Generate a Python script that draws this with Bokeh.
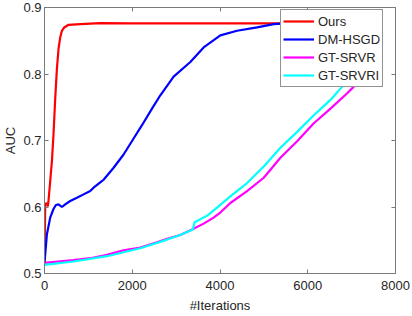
from bokeh.plotting import figure
from bokeh.models import LinearAxis, Range1d, FixedTicker, Legend, LegendItem, CustomJSTickFormatter
from bokeh.embed import file_html
from bokeh.resources import INLINE

# ---- data ----
ours_x = [0, 8, 16, 40, 60, 77, 91, 130, 169, 205, 244, 283, 320, 358, 397, 450, 548, 815, 1271,
          2000, 3000, 4000, 5000, 6000, 7000, 7500]
ours_y = [0.516, 0.560, 0.603, 0.606, 0.605, 0.601, 0.609, 0.639, 0.669, 0.709, 0.763, 0.808, 0.838,
          0.855, 0.865, 0.870, 0.874, 0.875, 0.8765, 0.876, 0.876, 0.876, 0.876, 0.876, 0.876, 0.876]

dm_x = [0, 55, 130, 205, 260, 320, 397, 472, 586, 739, 890, 1042, 1118, 1271, 1347, 1575, 1803,
        2031, 2222, 2450, 2640, 2943, 3324, 3627, 4008, 4389, 4845, 5225, 5500, 6000, 7000, 7500]
dm_y = [0.516, 0.559, 0.584, 0.597, 0.603, 0.604, 0.600, 0.604, 0.609, 0.614, 0.619, 0.624, 0.629,
        0.637, 0.641, 0.659, 0.679, 0.703, 0.723, 0.748, 0.768, 0.796, 0.818, 0.840, 0.858, 0.865,
        0.870, 0.875, 0.876, 0.876, 0.876, 0.876]

srvr_x = [0, 662, 1042, 1424, 1803, 2185, 2564, 2795, 3095, 3328, 3627, 3855, 4013, 4236, 4617,
          4997, 5377, 5758, 6138, 6518, 6899, 7050, 7500]
srvr_y = [0.516, 0.520, 0.523, 0.528, 0.535, 0.539, 0.547, 0.552, 0.558, 0.565, 0.575, 0.584, 0.592,
          0.606, 0.624, 0.644, 0.674, 0.699, 0.726, 0.748, 0.771, 0.781, 0.815]

srvri_x = [0, 662, 1424, 2185, 2795, 3095, 3380, 3420, 3709, 3855, 4236, 4617, 4997, 5377, 5758,
           6138, 6518, 6746, 7300]
srvri_y = [0.513, 0.518, 0.526, 0.538, 0.551, 0.558, 0.566, 0.577, 0.587, 0.595, 0.616, 0.636, 0.661,
           0.689, 0.713, 0.738, 0.761, 0.778, 0.820]

x_ticks = [0, 2000, 4000, 6000, 8000]
y_ticks = [0.5, 0.6, 0.7, 0.8, 0.9]
y_tick_labels = {0.5: "0.5", 0.6: "0.6", 0.7: "0.7", 0.8: "0.8", 0.9: "0.9"}

FONT = "Liberation Sans"
TXT = "#262626"
AX = "#7a7a7a"

p = figure(width=412, height=316, output_backend="svg", toolbar_location=None,
           x_range=Range1d(0, 8000), y_range=Range1d(0.5, 0.9),
           min_border_left=44, min_border_right=17, min_border_top=7, min_border_bottom=43)
p.xgrid.visible = False
p.ygrid.visible = False
p.outline_line_color = AX
p.background_fill_color = "white"
p.border_fill_color = "white"

def style(ax):
    ax.axis_line_color = AX
    ax.major_tick_line_color = AX
    ax.minor_tick_line_color = None
    ax.major_tick_in = 4
    ax.major_tick_out = 0
    ax.major_label_text_font = FONT
    ax.major_label_text_color = TXT
    ax.major_label_text_font_size = "13px"
    ax.axis_label_text_font = FONT
    ax.axis_label_text_font_size = "13px"
    ax.axis_label_text_color = TXT
    ax.axis_label_text_font_style = "normal"

p.xaxis.ticker = FixedTicker(ticks=x_ticks)
p.yaxis.ticker = FixedTicker(ticks=y_ticks)
p.yaxis.major_label_overrides = y_tick_labels
p.xaxis.axis_label = "#Iterations"
p.yaxis.axis_label = "AUC"
style(p.xaxis[0])
style(p.yaxis[0])
p.xaxis.major_label_standoff = 7
p.yaxis.major_label_standoff = 3
p.xaxis.axis_label_standoff = 5
p.yaxis.axis_label_standoff = 2

blank = CustomJSTickFormatter(code="return '';")
top = LinearAxis(ticker=FixedTicker(ticks=x_ticks), major_label_standoff=0, formatter=blank)
right = LinearAxis(ticker=FixedTicker(ticks=y_ticks), major_label_standoff=0,
                   formatter=CustomJSTickFormatter(code="return '';"))
style(top)
style(right)
p.add_layout(top, "above")
p.add_layout(right, "right")

r1 = p.line(ours_x, ours_y, line_color="#ff0000", line_width=2.2)
r2 = p.line(dm_x, dm_y, line_color="#0000ff", line_width=2.2)
r3 = p.line(srvr_x, srvr_y, line_color="#ff00ff", line_width=2.2)
r4 = p.line(srvri_x, srvri_y, line_color="#00ffff", line_width=2.2)

legend = Legend(items=[LegendItem(label="Ours", renderers=[r1]),
                       LegendItem(label="DM-HSGD", renderers=[r2]),
                       LegendItem(label="GT-SRVR", renderers=[r3]),
                       LegendItem(label="GT-SRVRI", renderers=[r4])],
                location=(236, 186))
legend.label_text_font = FONT
legend.label_text_font_size = "13px"
legend.label_text_color = TXT
legend.glyph_width = 31
legend.glyph_height = 18
legend.label_height = 18
legend.label_standoff = 4
legend.spacing = 0
legend.padding = 2
legend.margin = 0
legend.border_line_color = "#262626"
legend.border_line_width = 0.8
legend.background_fill_alpha = 1.0
p.add_layout(legend, "center")

open("out.html", "w").write(file_html(p, INLINE))
